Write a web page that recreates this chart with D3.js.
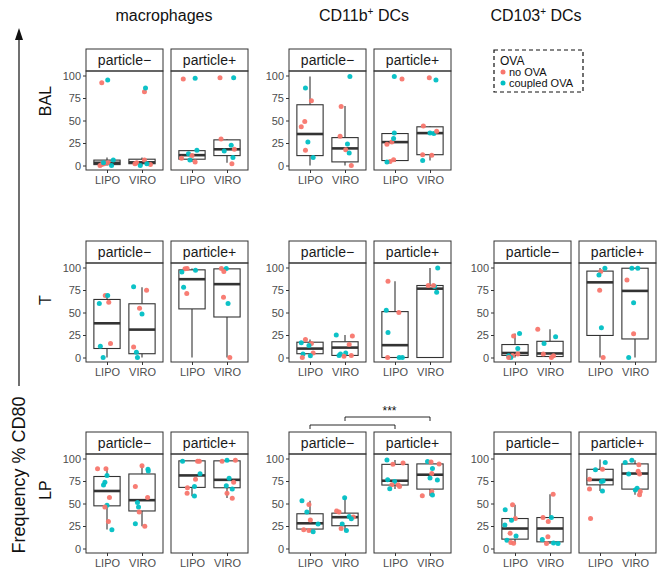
<!DOCTYPE html>
<html>
<head>
<meta charset="utf-8">
<script src="https://cdn.jsdelivr.net/npm/d3@7/dist/d3.min.js"></script>
<style>
  body { margin: 0; background: #fff; }
  text { font-family: "Liberation Sans", Arial, sans-serif; }
</style>
</head>
<body>
<div class="canvas"></div>
<script>
const cells = ['mac', 'cd11b', 'cd103'];
const cellNames = [['macrophages', ''], ['CD11b', ' DCs'], ['CD103', ' DCs']];
const tissues = ['BAL', 'T', 'LP'];
const particles = ['particle−', 'particle+'];
const groups = ['LIPO', 'VIRO'];
const ovaLevels = ['no OVA', 'coupled OVA'];
const yTicks = [0, 25, 50, 75, 100];

// tissue, cell, particle, group, lower whisker, q1, median, q3, upper whisker
const boxStats = [
  ['BAL', 'mac', 0, 'LIPO', 0, 1, 3, 6, 9], ['BAL', 'mac', 0, 'VIRO', 0, 2, 3.5, 7, 9],
  ['BAL', 'mac', 1, 'LIPO', 4, 7, 11.5, 16.5, 17], ['BAL', 'mac', 1, 'VIRO', 3, 11, 18, 28.5, 29.5],
  ['BAL', 'cd11b', 0, 'LIPO', 0, 11, 35, 67.5, 99], ['BAL', 'cd11b', 0, 'VIRO', 0, 4, 19, 31, 66],
  ['BAL', 'cd11b', 1, 'LIPO', 4, 5.5, 26, 35.5, 36], ['BAL', 'cd11b', 1, 'VIRO', 5.6, 12, 36, 43, 44],
  ['T', 'mac', 0, 'LIPO', 0, 10, 38, 64.5, 69], ['T', 'mac', 0, 'VIRO', 0, 4.2, 31, 59.7, 78],
  ['T', 'mac', 1, 'LIPO', 0, 54, 87, 97.4, 99], ['T', 'mac', 1, 'VIRO', 0, 45, 81.5, 98.5, 99],
  ['T', 'cd11b', 0, 'LIPO', 0, 4.2, 9.9, 17, 20], ['T', 'cd11b', 0, 'VIRO', 0, 2.3, 11, 17.5, 25],
  ['T', 'cd11b', 1, 'LIPO', 0, 0, 13.7, 51, 84.7], ['T', 'cd11b', 1, 'VIRO', 0, 0, 76.5, 80, 99.5],
  ['T', 'cd103', 0, 'LIPO', 0, 2.3, 5, 14.4, 26.8], ['T', 'cd103', 0, 'VIRO', 0, 1.1, 4.5, 18, 31.3],
  ['T', 'cd103', 1, 'LIPO', 0, 24.5, 83.5, 96, 99.5], ['T', 'cd103', 1, 'VIRO', 0, 20.6, 74, 99.2, 99.2],
  ['LP', 'mac', 0, 'LIPO', 21, 47.4, 63.9, 80, 89], ['LP', 'mac', 0, 'VIRO', 24.8, 41.7, 53.7, 82.8, 92],
  ['LP', 'mac', 1, 'LIPO', 58, 67.9, 81.2, 97.4, 97.4], ['LP', 'mac', 1, 'VIRO', 56, 67.5, 76.3, 97.4, 98],
  ['LP', 'cd11b', 0, 'LIPO', 18.5, 21.6, 28, 38.6, 53], ['LP', 'cd11b', 0, 'VIRO', 20, 25.3, 34.8, 39.3, 56.4],
  ['LP', 'cd11b', 1, 'LIPO', 66, 70.5, 75.3, 93.5, 98.4], ['LP', 'cd11b', 1, 'VIRO', 58.7, 66, 82, 94, 97],
  ['LP', 'cd103', 0, 'LIPO', 5.9, 10.4, 22.2, 33.3, 48.5], ['LP', 'cd103', 0, 'VIRO', 5, 7.4, 22.2, 34.4, 60.4],
  ['LP', 'cd103', 1, 'LIPO', 64, 70.7, 76.3, 88, 99], ['LP', 'cd103', 1, 'VIRO', 59.7, 66, 83.3, 94, 98]
];

// cell, particle, group, [jitter (category units), % CD80, ova level]
const balPoints = [
  ['mac', 0, 'LIPO', [[-0.15, 92, 0], [0.02, 95, 1], [-0.2, 0, 0], [-0.15, 1, 0], [-0.08, 2, 0], [0.03, 3, 0], [-0.1, 3, 1], [0.18, 6, 1], [0.13, 0, 1]]],
  ['mac', 0, 'VIRO', [[0.07, 82, 0], [0.1, 86, 1], [0.07, 6, 0], [-0.15, 3, 0], [0.24, 1, 0], [-0.05, 0, 1], [0.14, 2, 1], [-0.2, 2, 0]]],
  ['mac', 1, 'LIPO', [[-0.25, 96, 0], [0.09, 97, 1], [-0.3, 8, 0], [-0.1, 13, 1], [0, 11, 0], [0.14, 17, 1], [-0.06, 6, 1], [0.09, 4, 0]]],
  ['mac', 1, 'VIRO', [[-0.2, 97.5, 0], [0.19, 97.5, 1], [-0.17, 29.5, 0], [-0.08, 16, 1], [0.12, 22.5, 1], [0.21, 18, 0], [0.17, 9, 1], [0.14, 2, 0]]],
  ['cd11b', 0, 'LIPO', [[-0.13, 86, 1], [0.04, 72, 0], [-0.15, 49, 0], [-0.25, 43, 0], [-0.06, 26, 1], [-0.13, 17, 0], [0.09, 9, 1]]],
  ['cd11b', 0, 'VIRO', [[0.14, 99, 1], [-0.11, 65.5, 0], [-0.14, 32.5, 0], [0.02, 17.6, 0], [0.07, 24, 1], [0.12, 14, 1], [0.18, 0, 0]]],
  ['cd11b', 1, 'LIPO', [[-0.02, 99, 1], [0.2, 96, 0], [-0.23, 23.6, 0], [-0.09, 26, 0], [-0.04, 30, 1], [-0.02, 36, 1], [-0.04, 6.4, 0], [-0.14, 4.5, 0], [-0.23, 4, 1]]],
  ['cd11b', 1, 'VIRO', [[-0.02, 97.5, 0], [0.17, 95, 1], [-0.19, 44, 0], [0, 36, 1], [0.11, 35.5, 1], [0.19, 38, 0], [-0.21, 12, 0], [0.05, 11.5, 0], [-0.21, 5.6, 1]]]
];

const tPoints = [
  ['mac', 0, 'LIPO', [[-0.05, 69, 0], [0.02, 69, 1], [0.05, 61.5, 0], [-0.22, 60, 1], [-0.19, 12.5, 1], [0.1, 15.5, 0], [-0.11, 0, 1]]],
  ['mac', 0, 'VIRO', [[-0.24, 78.5, 1], [0.13, 74.7, 0], [-0.07, 54.7, 0], [0, 48.3, 1], [-0.24, 11.7, 0], [-0.16, 5.7, 1], [-0.13, 0, 1]]],
  ['mac', 1, 'LIPO', [[-0.2, 98.5, 0], [-0.14, 99, 0], [-0.29, 95, 1], [0.1, 97, 1], [-0.24, 78, 1], [-0.15, 71, 0]]],
  ['mac', 1, 'VIRO', [[-0.16, 99, 0], [-0.02, 99, 1], [-0.09, 95.5, 0], [-0.1, 67, 0], [0.03, 60, 1], [0.08, 0, 0]]],
  ['cd11b', 0, 'LIPO', [[-0.13, 20, 0], [-0.25, 16.3, 1], [0.04, 15.6, 0], [-0.03, 13.3, 1], [0.09, 5, 0], [-0.2, 4, 1], [0.01, 2, 1], [-0.22, 0, 0]]],
  ['cd11b', 0, 'VIRO', [[-0.25, 25, 1], [0.21, 24, 0], [0.12, 14.5, 0], [-0.13, 4, 1], [0.02, 5, 1], [-0.03, 1.5, 0], [-0.17, 2.3, 1], [0.18, 2.3, 0]]],
  ['cd11b', 1, 'LIPO', [[-0.2, 84.7, 0], [-0.25, 52.5, 1], [0.11, 50, 0], [-0.2, 27.7, 1], [-0.21, 0, 0], [0.12, 0, 1], [0.21, 0, 1]]],
  ['cd11b', 1, 'VIRO', [[0.22, 99.5, 1], [-0.05, 80, 0], [0.13, 79, 1], [0.19, 72.6, 1], [0.1, 80, 0]]],
  ['cd103', 0, 'LIPO', [[-0.04, 23.8, 0], [0.13, 26.8, 1], [0.08, 10, 1], [0.08, 3.8, 0], [-0.07, 2.3, 0], [-0.18, 2, 1], [-0.12, 0, 1], [-0.18, 0, 0]]],
  ['cd103', 0, 'VIRO', [[-0.35, 31.3, 0], [0.16, 23, 1], [-0.17, 15.5, 1], [-0.19, 3.8, 0], [0.04, 0, 0], [0.1, 2, 0]]],
  ['cd103', 1, 'LIPO', [[0.14, 99.2, 1], [0.02, 95.5, 0], [-0.03, 91.7, 1], [-0.01, 74.7, 0], [0.04, 33, 1], [0.09, 0, 0]]],
  ['cd103', 1, 'VIRO', [[-0.09, 99.2, 1], [0.08, 99.2, 1], [-0.23, 86, 0], [-0.04, 60.8, 1], [-0.04, 26.4, 0], [-0.18, 0, 1]]]
];

const lpPoints = [
  ['mac', 0, 'LIPO', [[-0.27, 88.7, 0], [-0.03, 88.7, 0], [0, 81, 1], [-0.06, 73.6, 1], [-0.1, 70.6, 1], [0.07, 56.8, 0], [0, 48, 1], [-0.06, 46, 0], [0.04, 30, 0], [0.14, 20.7, 1]]],
  ['mac', 0, 'VIRO', [[0, 92, 0], [0.17, 88, 1], [0.18, 86, 1], [-0.19, 68.8, 0], [0.16, 56.8, 0], [-0.13, 51, 1], [-0.1, 46, 1], [-0.08, 40.6, 0], [-0.19, 27.5, 1], [0.08, 24.8, 0]]],
  ['mac', 1, 'LIPO', [[-0.27, 97, 1], [0.16, 97, 0], [0.21, 97, 0], [0.23, 83, 1], [0.1, 77, 0], [-0.13, 67.6, 0], [0.07, 68.8, 1], [-0.14, 61.3, 0], [0.07, 58.3, 1]]],
  ['mac', 1, 'VIRO', [[-0.14, 97, 0], [0, 98, 1], [0.24, 98, 0], [0.06, 78, 1], [0.19, 73.6, 0], [-0.02, 69.6, 1], [0.15, 66.2, 1], [0, 61.3, 0], [0.15, 55.7, 0]]],
  ['cd11b', 0, 'LIPO', [[-0.23, 53, 1], [-0.03, 49, 0], [-0.09, 40.5, 1], [0.01, 31.8, 0], [0.23, 27.3, 1], [-0.18, 20.8, 0], [-0.03, 20, 0], [0.09, 18.5, 1]]],
  ['cd11b', 0, 'VIRO', [[-0.01, 56.4, 1], [-0.24, 41.6, 0], [-0.17, 40.5, 0], [0.12, 35.6, 1], [0.24, 35, 0], [0.18, 33, 1], [-0.08, 27.3, 1], [-0.11, 22.3, 0], [0.04, 20, 1]]],
  ['cd11b', 1, 'LIPO', [[-0.23, 98.4, 1], [-0.06, 93.5, 0], [0.23, 95, 0], [-0.21, 76.5, 1], [-0.01, 74.5, 1], [0.09, 70.8, 0], [-0.09, 70.8, 0], [-0.15, 66.3, 1], [0.13, 68.9, 0]]],
  ['cd11b', 1, 'VIRO', [[-0.07, 96.8, 1], [0.03, 96, 0], [0.26, 94, 0], [0.07, 89, 1], [0.05, 83.3, 0], [0, 78.4, 1], [0.21, 76, 1], [0.05, 63.2, 0], [0.07, 59.4, 1], [-0.22, 58.7, 0]]],
  ['cd103', 0, 'LIPO', [[-0.07, 48.5, 0], [-0.28, 43, 1], [0.01, 33.3, 0], [-0.1, 31.5, 1], [-0.29, 26, 1], [-0.14, 17, 0], [0.03, 14, 1], [-0.23, 9.3, 1], [-0.12, 6.7, 0], [-0.04, 5.9, 0]]],
  ['cd103', 0, 'VIRO', [[0.09, 60.4, 0], [0.04, 34.4, 1], [-0.2, 34.4, 0], [-0.05, 30, 0], [-0.06, 13, 0], [-0.22, 10, 1], [0.1, 6, 1], [0.23, 5.6, 1], [-0.1, 5.6, 0]]],
  ['cd103', 1, 'LIPO', [[0.15, 95.6, 1], [0.07, 88, 0], [-0.13, 87.4, 1], [-0.3, 77, 0], [0.04, 74.4, 1], [0.09, 75, 1], [-0.3, 66, 0], [0.07, 64, 1], [-0.27, 33.3, 0]]],
  ['cd103', 1, 'VIRO', [[-0.09, 98, 1], [-0.28, 95.6, 1], [0.11, 93, 0], [-0.18, 82.7, 1], [0.09, 85.7, 0], [0.13, 82.7, 0], [0.06, 67, 1], [0.01, 65, 1], [0.15, 63.3, 0], [0.13, 59.7, 0]]]
];

// LP CD11b: particle− vs particle+ per group
const sigTests = [['LIPO', ''], ['VIRO', '***']];

const pointsByTissue = { BAL: balPoints, T: tPoints, LP: lpPoints };

// layout
const width = 658, height = 570;
const colX = [86, 289, 494];
const panelW = 77, panelGap = 8;
const rowY = [49, 241, 432];
const stripH = 22, panelH = 99;
const ink = '#333333';

const color = d3.scaleOrdinal().domain([0, 1]).range(['#F8766D', '#00BFC4']);

const svg = d3
  .select('.canvas')
  .append('svg')
  .attr('width', width)
  .attr('height', height);

// column headers
const headerX = [164, 364, 536];
cellNames.forEach((n, i) => {
  const t = svg
    .append('text')
    .attr('x', headerX[i])
    .attr('y', 21)
    .attr('text-anchor', 'middle')
    .attr('font-size', 16)
    .attr('fill', '#111');
  t.append('tspan').text(n[0]);
  if (n[1]) {
    t.append('tspan').attr('dy', -6).attr('font-size', 10).text('+');
    t.append('tspan').attr('dy', 6).text(n[1]);
  }
});

// row labels
const rowLabelY = [101, 300, 490];
tissues.forEach((t, i) => {
  svg
    .append('text')
    .attr('transform', `translate(51, ${rowLabelY[i]}) rotate(-90)`)
    .attr('text-anchor', 'middle')
    .attr('font-size', 16)
    .attr('fill', '#111')
    .text(t);
});

// y title with arrow
svg
  .append('text')
  .attr('transform', 'translate(25, 475) rotate(-90)')
  .attr('text-anchor', 'middle')
  .attr('font-size', 18)
  .attr('fill', '#111')
  .text('Frequency % CD80');

svg
  .append('line')
  .attr('x1', 19).attr('x2', 19)
  .attr('y1', 386).attr('y2', 38)
  .attr('stroke', '#111')
  .attr('stroke-width', 1.2);
svg
  .append('path')
  .attr('d', 'M19,28 L15,40 L23,40 Z')
  .attr('fill', '#111');

const panelOf = (ri, ci, p) => {
  const x0 = colX[ci] + p * (panelW + panelGap);
  const y0 = rowY[ri] + stripH;
  const x = d3.scalePoint().domain(groups).range([x0, x0 + panelW]).padding(0.6);
  const y = d3.scaleLinear().domain([-5, 105]).range([y0 + panelH, y0]);
  return { x0, y0, x, y };
};

tissues.forEach((tissue, ri) => {
  cells.forEach((cell, ci) => {
    const hasData = boxStats.some(b => b[0] === tissue && b[1] === cell);
    if (!hasData) return;

    particles.forEach((pl, p) => {
      const { x0, y0, x, y } = panelOf(ri, ci, p);
      const step = x.step();
      const g = svg.append('g');

      // strip
      g.append('rect')
        .attr('x', x0).attr('y', rowY[ri])
        .attr('width', panelW).attr('height', stripH)
        .attr('fill', '#fff').attr('stroke', ink).attr('stroke-width', 1);
      g.append('text')
        .attr('x', x0 + panelW / 2).attr('y', rowY[ri] + stripH / 2 + 5)
        .attr('text-anchor', 'middle')
        .attr('font-size', 14)
        .attr('fill', '#1a1a1a')
        .text(pl);

      // boxes
      const bx = boxStats.filter(b => b[0] === tissue && b[1] === cell && b[2] === p);
      bx.forEach(b => {
        const cx = x(b[3]);
        const bw = 0.75 * step;
        g.append('line')
          .attr('x1', cx).attr('x2', cx)
          .attr('y1', y(b[4])).attr('y2', y(b[5]))
          .attr('stroke', ink).attr('stroke-width', 1.1);
        g.append('line')
          .attr('x1', cx).attr('x2', cx)
          .attr('y1', y(b[7])).attr('y2', y(b[8]))
          .attr('stroke', ink).attr('stroke-width', 1.1);
        g.append('rect')
          .attr('x', cx - bw / 2).attr('y', y(b[7]))
          .attr('width', bw).attr('height', Math.max(0, y(b[5]) - y(b[7])))
          .attr('fill', '#fff').attr('stroke', ink).attr('stroke-width', 1.1);
        g.append('line')
          .attr('x1', cx - bw / 2).attr('x2', cx + bw / 2)
          .attr('y1', y(b[6])).attr('y2', y(b[6]))
          .attr('stroke', ink).attr('stroke-width', 2.6);
      });

      // jittered points
      const pts = pointsByTissue[tissue]
        .filter(d => d[0] === cell && d[1] === p)
        .flatMap(d => d[3].map(v => ({ group: d[2], j: v[0], value: v[1], ova: v[2] })));
      g.selectAll('circle')
        .data(pts)
        .enter()
        .append('circle')
        .attr('cx', d => x(d.group) + d.j * step)
        .attr('cy', d => y(d.value))
        .attr('r', 2.5)
        .attr('fill', d => color(d.ova))
        .attr('fill-opacity', 0.95);

      // panel border
      g.append('rect')
        .attr('x', x0).attr('y', y0)
        .attr('width', panelW).attr('height', panelH)
        .attr('fill', 'none').attr('stroke', ink).attr('stroke-width', 1);

      // x axis
      const xa = g.append('g')
        .attr('transform', `translate(0, ${y0 + panelH})`)
        .call(d3.axisBottom(x).tickSize(3).tickPadding(3));
      xa.select('.domain').remove();
      xa.selectAll('line').attr('stroke', ink);
      xa.selectAll('text')
        .attr('font-size', 11)
        .attr('fill', '#4d4d4d')
        .attr('font-family', '"Liberation Sans", Arial, sans-serif');

      // y axis on first panel of each pair
      if (p === 0) {
        const ya = g.append('g')
          .attr('transform', `translate(${x0}, 0)`)
          .call(d3.axisLeft(y).tickValues(yTicks).tickSize(3).tickPadding(2));
        ya.select('.domain').remove();
        ya.selectAll('line').attr('stroke', ink);
        ya.selectAll('text')
          .attr('font-size', 11)
          .attr('fill', '#4d4d4d')
          .attr('font-family', '"Liberation Sans", Arial, sans-serif');
      }
    });
  });
});

// significance brackets (LP, CD11b+ DCs)
const pMinus = panelOf(2, 1, 0);
const pPlus = panelOf(2, 1, 1);
const bracketY = [425, 417];
sigTests.forEach((s, i) => {
  const xa = pMinus.x(s[0]);
  const xb = pPlus.x(s[0]);
  const by = bracketY[i];
  svg.append('path')
    .attr('d', `M${xa},${by + 4} V${by} H${xb} V${by + 4}`)
    .attr('fill', 'none')
    .attr('stroke', '#111')
    .attr('stroke-width', 0.9);
  if (s[1]) {
    svg.append('text')
      .attr('x', (xa + xb) / 2 + 2)
      .attr('y', by - 2)
      .attr('text-anchor', 'middle')
      .attr('font-size', 12)
      .attr('fill', '#111')
      .text(s[1]);
  }
});

// legend
const legend = svg.append('g').attr('transform', 'translate(494, 50)');
legend.append('rect')
  .attr('width', 89).attr('height', 42)
  .attr('fill', '#fff')
  .attr('stroke', '#111')
  .attr('stroke-width', 1.2)
  .attr('stroke-dasharray', '4,3');
legend.append('text')
  .attr('x', 6).attr('y', 15)
  .attr('font-size', 12)
  .attr('fill', '#111')
  .text('OVA');
ovaLevels.forEach((lv, i) => {
  legend.append('circle')
    .attr('cx', 9).attr('cy', 22 + i * 11)
    .attr('r', 2.5)
    .attr('fill', color(i));
  legend.append('text')
    .attr('x', 15).attr('y', 26 + i * 11)
    .attr('font-size', 11)
    .attr('fill', '#111')
    .text(lv);
});
</script>
</body>
</html>
